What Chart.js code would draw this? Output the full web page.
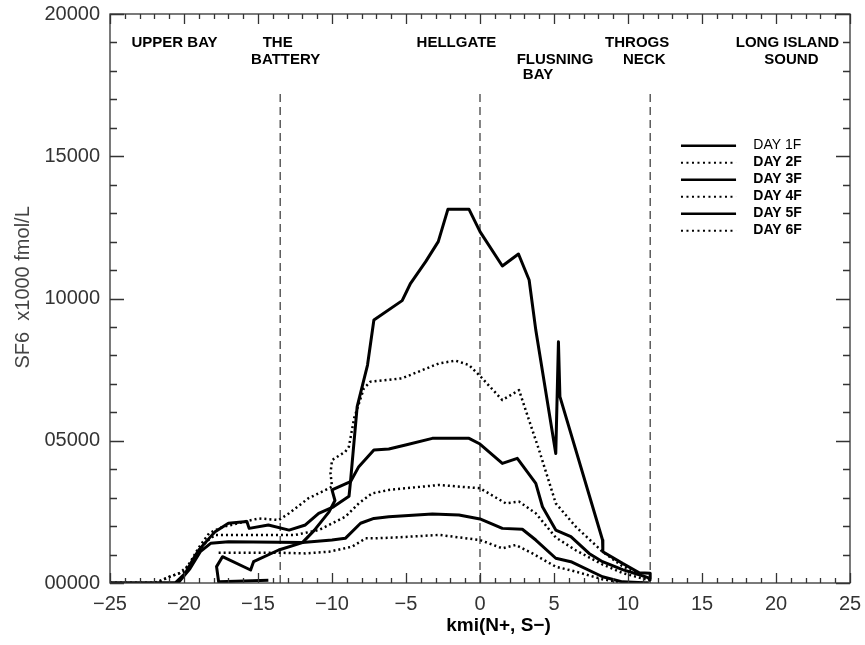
<!DOCTYPE html>
<html>
<head>
<meta charset="utf-8">
<script src="https://cdn.jsdelivr.net/npm/chart.js@4.4.1/dist/chart.umd.min.js"></script>
<style>
  html, body { margin: 0; padding: 0; background: #fff; }
  #wrap { width: 865px; height: 645px; }
</style>
</head>
<body>
<div id="wrap"><canvas id="sf6" width="865" height="645"></canvas></div>
<script>
// SF6 profiles along the East River, kmi (N+, S-) vs concentration (x1000 fmol/L)
const day1Km  = [-25, -20.6, -19.9, -19.35, -19.0, -18.2, -17.9, -17.0, -15.75, -15.6, -14.3, -12.9, -11.8, -10.9, -9.9, -8.85, -8.75, -8.3, -7.6, -7.17, -5.26, -4.69, -3.67, -2.82, -2.17, -0.74, 0, 1.51, 2.6, 3.32, 3.77, 5.12, 5.3, 5.4, 8.28, 8.3, 9.63, 10.76, 11.5, 11.5];
const day1Val = [0, 0, 350, 870, 1160, 1630, 1800, 2100, 2160, 1920, 2040, 1860, 2040, 2450, 2680, 3050, 3560, 6200, 7660, 9245, 9925, 10535, 11295, 12000, 13135, 13135, 12350, 11143, 11565, 10650, 8890, 4550, 8480, 6550, 1510, 1100, 690, 360, 340, 150];

const day2Km  = [-25, -21.8, -21.0, -20.0, -19.5, -19.0, -18.3, -17.5, -16.0, -14.95, -13.6, -12.9, -11.6, -10.67, -10.0, -10.1, -10.0, -9.1, -8.86, -8.5, -7.85, -7.4, -5.26, -2.77, -1.65, -0.74, 0.05, 1.51, 2.64, 2.86, 3.99, 5.12, 6.47, 8.28, 9.6, 11.4];
const day2Val = [0, 0, 220, 400, 800, 1250, 1750, 1950, 2150, 2270, 2214, 2450, 2975, 3210, 3385, 3855, 4320, 4615, 4790, 5800, 6840, 7077, 7195, 7720, 7815, 7660, 7250, 6430, 6780, 6430, 4675, 2800, 1980, 1100, 600, 165];

const day3Km  = [-14.3, -16.5, -17.66, -17.8, -17.4, -15.5, -15.3, -13.6, -12.0, -11.2, -10.2, -9.8, -10.0, -8.75, -8.19, -7.17, -6.16, -5.03, -3.22, -0.74, 0, 1.51, 2.52, 3.77, 4.22, 5.12, 6.14, 7.37, 8.28, 9.63, 10.76, 11.4, 11.5];
const day3Val = [100, 60, 45, 575, 925, 457, 750, 1160, 1420, 1850, 2500, 2900, 3270, 3560, 4090, 4675, 4710, 4850, 5085, 5085, 4885, 4205, 4380, 3500, 2680, 1860, 1630, 1040, 750, 470, 290, 180, 60];

const day4Km  = [-25, -22.0, -21.3, -20.3, -19.5, -19.0, -18.5, -17.9, -14.73, -12.47, -10.9, -9.09, -8.19, -7.29, -6.16, -2.77, 0, 1.74, 2.64, 3.77, 5.12, 6.47, 8.28, 9.63, 11.4];
const day4Val = [0, 0, 150, 350, 700, 1100, 1450, 1690, 1690, 1690, 1860, 2330, 2800, 3150, 3270, 3445, 3330, 2800, 2860, 2450, 1600, 1150, 650, 350, 100];

const day5Km  = [-25, -20.4, -19.6, -18.9, -18.2, -17.0, -12.0, -10.0, -9.1, -8.07, -7.17, -6.16, -3.22, -1.42, 0, 1.51, 2.86, 3.77, 5.12, 6.14, 8.28, 9.63, 11.4];
const day5Val = [0, 0, 500, 1100, 1395, 1450, 1420, 1510, 1570, 2100, 2270, 2330, 2425, 2390, 2250, 1920, 1890, 1510, 870, 750, 220, 40, 0];

const day6Km  = [-17.66, -13.6, -11.8, -10.2, -8.64, -7.73, -7.06, -5.7, -2.77, 0, 1.51, 2.41, 3.54, 5.12, 6.47, 8.28, 9.6, 11.4];
const day6Val = [1065, 1065, 1040, 1100, 1277, 1570, 1570, 1600, 1690, 1510, 1220, 1335, 1040, 573, 400, 130, 20, 0];

const dayLabels = ['DAY 1F', 'DAY 2F', 'DAY 3F', 'DAY 4F', 'DAY 5F', 'DAY 6F'];
const xTickLabels = ['\u221225', '\u221220', '\u221215', '\u221210', '\u22125', '0', '5', '10', '15', '20', '25'];
const yTickLabels = ['00000', '05000', '10000', '15000', '20000'];

// landmarks along the river (km position, height in data units)
const landmarkText = ['UPPER BAY', 'THE', 'BATTERY', 'HELLGATE', 'FLUSNING', 'BAY', 'THROGS', 'NECK', 'LONG ISLAND', 'SOUND'];
const landmarkKm   = [-20.64, -13.67, -13.13, -1.59, 5.07, 3.92, 10.62, 11.1, 20.77, 21.04];
const landmarkVal  = [18980, 18980, 18380, 18980, 18380, 17860, 18980, 18380, 18980, 18380];

const dividerKm = [-13.5, 0, 11.5];
const dividerTop = 17330;

const seriesKm = [day1Km, day2Km, day3Km, day4Km, day5Km, day6Km];
const seriesVal = [day1Val, day2Val, day3Val, day4Val, day5Val, day6Val];
const dotted = [false, true, false, true, false, true];

function toPoints(km, val) {
  return km.map((k, i) => ({ x: k, y: val[i] }));
}

const datasets = seriesKm.map((km, i) => ({
  label: dayLabels[i],
  data: toPoints(km, seriesVal[i]),
  borderColor: '#000',
  borderWidth: dotted[i] ? 2.5 : 3,
  borderDash: dotted[i] ? [2, 3] : [],
  borderJoinStyle: 'round',
  pointRadius: 0,
  tension: 0,
  fill: false,
}));

dividerKm.forEach((k) => {
  datasets.push({
    label: '',
    data: [{ x: k, y: 0 }, { x: k, y: dividerTop }],
    borderColor: '#444',
    borderWidth: 1.3,
    borderDash: [8, 5],
    pointRadius: 0,
    fill: false,
  });
});

const frameAndTicks = {
  id: 'frameAndTicks',
  afterDatasetsDraw(chart) {
    const { ctx, chartArea: a, scales: { x, y } } = chart;
    ctx.save();
    ctx.strokeStyle = '#333';
    ctx.lineWidth = 1.3;
    ctx.strokeRect(a.left, a.top, a.right - a.left, a.bottom - a.top);
    ctx.beginPath();
    for (let k = -25; k <= 25; k++) {
      const px = Math.round(x.getPixelForValue(k)) + 0.5;
      const len = k % 5 === 0 ? 10 : 5;
      ctx.moveTo(px, a.bottom); ctx.lineTo(px, a.bottom - len);
      ctx.moveTo(px, a.top); ctx.lineTo(px, a.top + len);
    }
    for (let v = 0; v <= 20000; v += 1000) {
      const py = Math.round(y.getPixelForValue(v)) + 0.5;
      const len = v % 5000 === 0 ? 14 : 7;
      ctx.moveTo(a.left, py); ctx.lineTo(a.left + len, py);
      ctx.moveTo(a.right, py); ctx.lineTo(a.right - len, py);
    }
    ctx.stroke();

    // landmark names
    ctx.fillStyle = '#000';
    ctx.font = 'bold 15px "Liberation Sans", Arial, sans-serif';
    ctx.textAlign = 'center';
    ctx.textBaseline = 'middle';
    landmarkText.forEach((t, i) => {
      ctx.fillText(t, x.getPixelForValue(landmarkKm[i]), y.getPixelForValue(landmarkVal[i]));
    });

    // legend
    const lx0 = x.getPixelForValue(13.58);
    const lx1 = x.getPixelForValue(17.3);
    const tx = x.getPixelForValue(18.47);
    const ly0 = y.getPixelForValue(15400);
    dayLabels.forEach((lab, i) => {
      const ly = ly0 + i * 17;
      ctx.beginPath();
      ctx.lineWidth = dotted[i] ? 2 : 2.5;
      ctx.setLineDash(dotted[i] ? [2, 3.5] : []);
      ctx.strokeStyle = '#000';
      ctx.moveTo(lx0, ly + 1); ctx.lineTo(lx1, ly + 1);
      ctx.stroke();
      ctx.setLineDash([]);
      ctx.textAlign = 'left';
      ctx.font = (i === 0 ? '' : 'bold ') + '14px "Liberation Sans", Arial, sans-serif';
      ctx.fillText(lab, tx, ly);
    });
    ctx.restore();
  },
};

Chart.defaults.font.family = '"Liberation Sans", Arial, sans-serif';

new Chart(document.getElementById('sf6'), {
  type: 'line',
  data: { datasets },
  options: {
    responsive: false,
    animation: false,
    devicePixelRatio: 1,
    layout: { padding: { top: 14, right: 15, left: 0, bottom: 0 } },
    plugins: {
      legend: { display: false },
      tooltip: { enabled: false },
    },
    scales: {
      x: {
        type: 'linear',
        min: -25,
        max: 25,
        afterFit: (s) => { s.height = 62; s.paddingLeft = 0; s.paddingRight = 0; },
        grid: { display: false, drawTicks: false },
        border: { display: false },
        ticks: {
          stepSize: 5,
          padding: 9,
          autoSkip: false,
          maxRotation: 0,
          color: '#333',
          font: { size: 20 },
          callback: (v, i) => xTickLabels[i],
        },
        title: {
          display: true,
          text: '       kmi(N+, S\u2212)',
          color: '#000',
          font: { size: 19, weight: 'bold' },
          padding: { top: 0, bottom: 8 },
        },
      },
      y: {
        type: 'linear',
        min: 0,
        max: 20000,
        afterFit: (s) => { s.width = 110; s.paddingTop = 0; s.paddingBottom = 0; },
        grid: { display: false, drawTicks: false },
        border: { display: false },
        ticks: {
          stepSize: 5000,
          padding: 10,
          color: '#333',
          font: { size: 20 },
          callback: (v, i) => yTickLabels[i],
        },
        title: {
          display: true,
          text: '    SF6  x1000 fmol/L',
          color: '#444',
          font: { size: 20 },
          padding: { top: 11, bottom: 0 },
        },
      },
    },
  },
  plugins: [frameAndTicks],
});
</script>
</body>
</html>
